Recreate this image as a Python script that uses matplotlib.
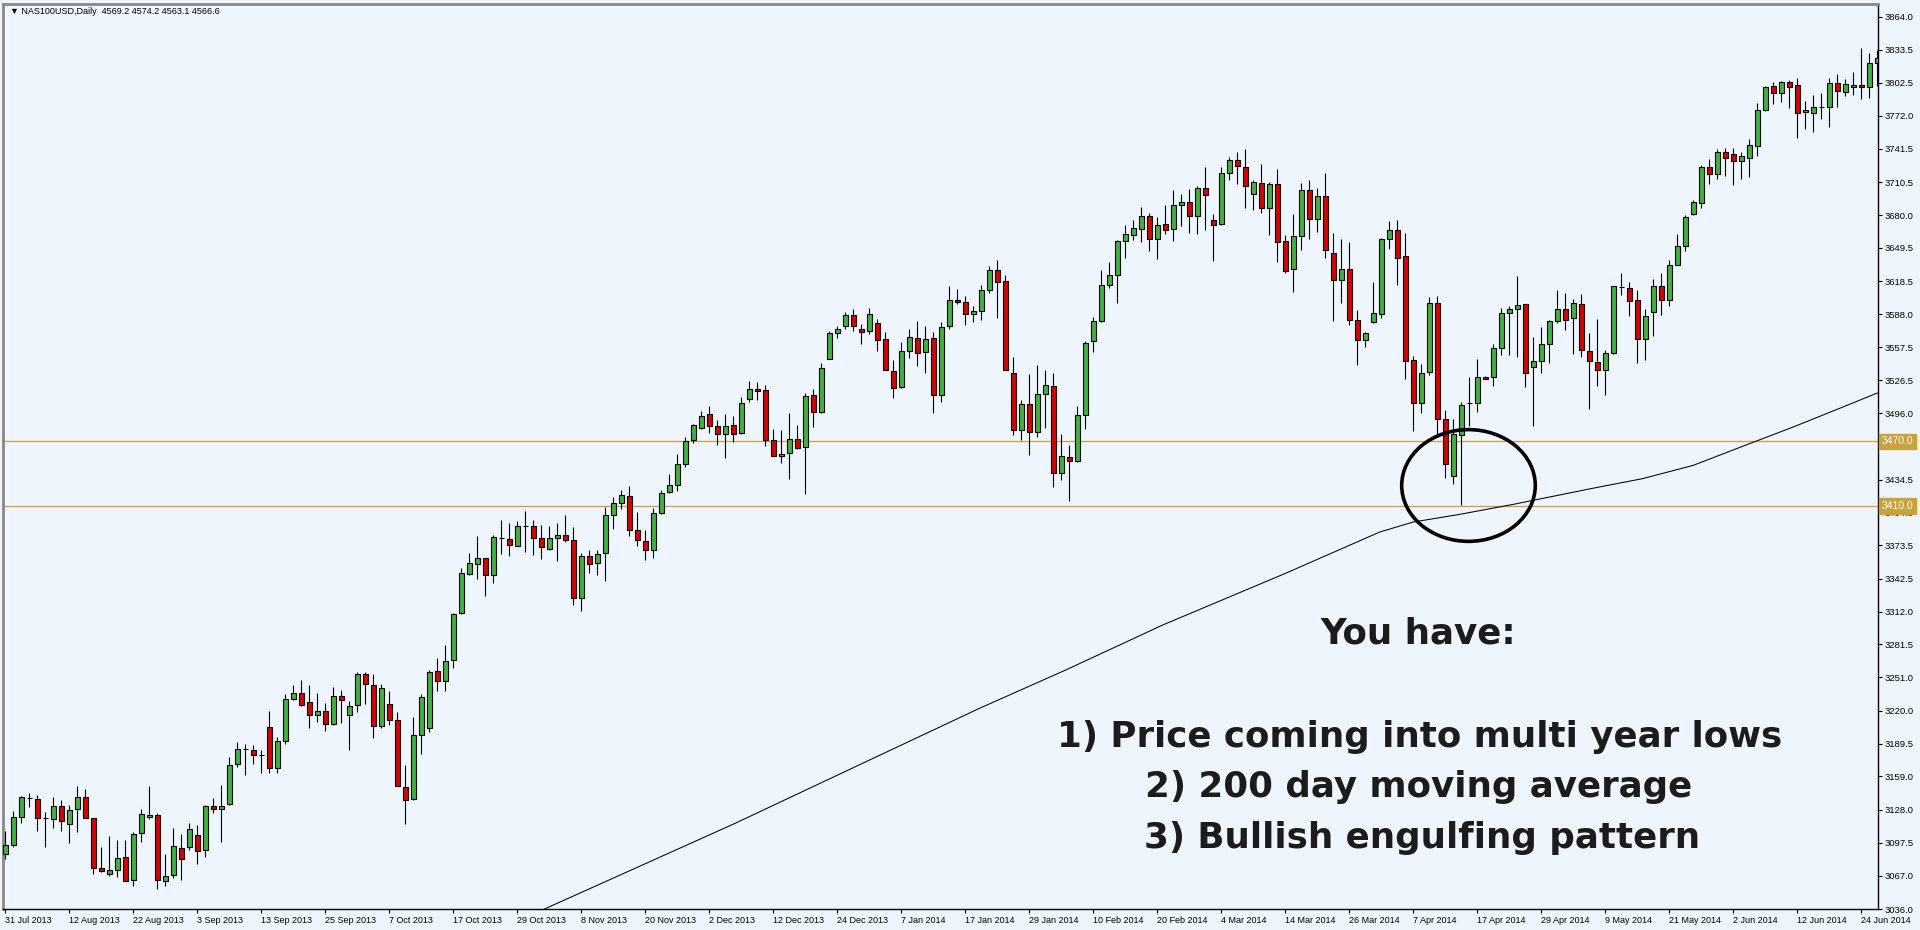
"""NAS100USD daily candles with support levels and 200-day MA (MT4 style)."""
import matplotlib

matplotlib.use("Agg")
import matplotlib.pyplot as plt
from matplotlib.patches import Ellipse

BG = "#EFF5FC"
GREEN = "#3DB53D"
RED = "#DD0000"
GOLD = "#C9A23C"

opens = [
    3087.2, 3095.5, 3121.2, 3138.6, 3138.2, 3120.3, 3119.7, 3131.4, 3115.0, 3129.0,
    3139.8, 3120.6, 3074.2, 3068.6, 3072.3, 3084.7, 3063.0, 3106.7, 3121.2, 3123.4,
    3062.4, 3068.0, 3092.4, 3093.4, 3104.8, 3090.3, 3131.4, 3128.7, 3133.0, 3170.7,
    3184.4, 3183.7, 3179.1, 3204.8, 3167.0, 3191.8, 3231.1, 3236.7, 3228.0, 3216.2,
    3219.6, 3207.3, 3233.9, 3216.2, 3224.9, 3254.3, 3244.1, 3205.7, 3226.5, 3211.0,
    3149.1, 3138.2, 3197.1, 3204.2, 3256.8, 3247.2, 3266.7, 3310.9, 3347.2, 3356.4,
    3361.9, 3346.2, 3380.5, 3379.0, 3372.8, 3391.0, 3391.0, 3380.5, 3369.7, 3380.5,
    3383.3, 3378.0, 3324.5, 3363.2, 3357.0, 3366.3, 3401.9, 3413.0, 3418.9, 3387.9,
    3377.1, 3369.4, 3403.7, 3422.9, 3429.1, 3449.2, 3471.5, 3482.6, 3495.6, 3484.2,
    3477.1, 3484.8, 3477.7, 3509.6, 3518.9, 3517.3, 3471.5, 3456.4, 3459.4, 3472.4,
    3464.7, 3512.7, 3497.2, 3546.7, 3570.9, 3576.7, 3586.9, 3574.6, 3572.1, 3580.1,
    3565.3, 3535.3, 3520.4, 3553.5, 3566.2, 3552.9, 3566.2, 3513.3, 3577.1, 3601.5,
    3599.7, 3588.5, 3590.7, 3610.8, 3628.7, 3618.5, 3533.7, 3480.8, 3504.9, 3478.6,
    3514.2, 3521.0, 3440.6, 3455.4, 3451.7, 3494.1, 3563.1, 3581.7, 3615.4, 3624.7,
    3655.7, 3661.2, 3667.4, 3678.9, 3658.1, 3672.1, 3667.4, 3689.2, 3691.9, 3679.2,
    3705.5, 3675.2, 3672.1, 3719.1, 3730.9, 3724.1, 3699.9, 3710.1, 3686.9, 3709.2,
    3655.7, 3629.7, 3660.6, 3703.6, 3676.7, 3697.8, 3644.8, 3619.5, 3630.3, 3582.3,
    3564.4, 3580.8, 3588.5, 3658.1, 3666.5, 3641.7, 3545.8, 3505.9, 3534.4, 3598.7,
    3491.0, 3437.8, 3476.2, 3505.6, 3505.9, 3529.7, 3529.7, 3557.0, 3589.1, 3593.2,
    3597.8, 3539.0, 3544.3, 3560.7, 3581.4, 3593.2, 3584.8, 3597.8, 3553.9, 3543.6,
    3536.5, 3552.3, 3613.3, 3612.7, 3600.9, 3565.3, 3590.1, 3613.9, 3601.5, 3634.0,
    3651.0, 3680.8, 3691.3, 3724.7, 3718.5, 3738.0, 3736.2, 3730.0, 3733.0, 3744.2,
    3777.3, 3799.9, 3792.8, 3803.3, 3800.5, 3775.2, 3774.2, 3780.4, 3780.4, 3802.1,
    3794.3, 3798.4, 3800.5, 3799.0, 3820.7,
]
highs = [
    3108.8, 3127.4, 3140.4, 3143.5, 3142.0, 3125.9, 3139.8, 3137.3, 3132.1, 3150.6,
    3146.9, 3120.6, 3093.4, 3103.3, 3099.6, 3100.2, 3107.3, 3129.0, 3149.7, 3124.9,
    3087.2, 3111.0, 3105.7, 3115.7, 3114.4, 3132.1, 3138.9, 3151.2, 3176.9, 3190.9,
    3189.3, 3188.4, 3183.1, 3219.6, 3195.5, 3235.7, 3244.1, 3248.1, 3243.5, 3236.7,
    3227.1, 3241.9, 3238.8, 3228.6, 3255.9, 3255.9, 3253.7, 3244.4, 3238.2, 3218.7,
    3169.2, 3214.1, 3235.7, 3258.0, 3269.2, 3280.6, 3310.9, 3352.7, 3366.6, 3381.8,
    3361.9, 3382.7, 3396.6, 3394.1, 3396.0, 3405.0, 3397.2, 3392.0, 3391.0, 3394.1,
    3401.2, 3390.4, 3366.3, 3369.4, 3369.4, 3409.0, 3418.3, 3424.5, 3428.5, 3404.3,
    3387.3, 3408.4, 3425.1, 3439.3, 3457.9, 3474.0, 3486.4, 3498.1, 3502.8, 3489.5,
    3495.0, 3493.2, 3511.1, 3525.7, 3524.7, 3522.0, 3481.7, 3480.2, 3496.6, 3484.8,
    3514.8, 3518.9, 3543.0, 3572.1, 3576.7, 3590.0, 3593.1, 3578.6, 3593.8, 3583.2,
    3571.5, 3545.2, 3562.2, 3573.9, 3581.7, 3576.7, 3571.5, 3580.7, 3614.2, 3611.7,
    3604.6, 3595.6, 3615.4, 3632.5, 3638.0, 3624.1, 3548.3, 3508.0, 3532.8, 3540.5,
    3535.9, 3533.4, 3476.5, 3466.3, 3502.8, 3562.8, 3585.4, 3629.4, 3636.5, 3657.2,
    3671.1, 3675.2, 3687.6, 3682.0, 3678.3, 3689.2, 3703.0, 3699.9, 3704.0, 3707.0,
    3724.7, 3680.7, 3724.7, 3733.4, 3738.6, 3741.7, 3712.9, 3727.5, 3710.8, 3723.1,
    3661.9, 3680.7, 3709.8, 3712.3, 3704.6, 3719.4, 3663.4, 3658.1, 3655.1, 3592.2,
    3571.5, 3617.9, 3659.1, 3674.2, 3675.2, 3663.7, 3548.9, 3541.5, 3604.0, 3604.6,
    3498.8, 3490.4, 3506.5, 3529.7, 3546.7, 3530.3, 3560.7, 3593.8, 3595.3, 3623.2,
    3597.8, 3566.9, 3576.1, 3583.0, 3610.2, 3608.0, 3602.5, 3607.1, 3570.6, 3583.9,
    3554.5, 3614.2, 3626.6, 3617.9, 3610.2, 3593.2, 3621.0, 3626.3, 3638.0, 3662.2,
    3679.8, 3693.8, 3726.3, 3732.4, 3741.1, 3742.6, 3742.6, 3738.0, 3750.4, 3784.1,
    3799.6, 3803.6, 3804.8, 3805.4, 3807.4, 3786.0, 3791.2, 3792.8, 3806.7, 3810.8,
    3806.1, 3812.8, 3834.6, 3830.6, 3833.0,
]
lows = [
    3082.5, 3093.4, 3115.7, 3130.5, 3108.8, 3093.4, 3111.3, 3108.8, 3097.1, 3107.3,
    3120.6, 3068.6, 3070.5, 3066.4, 3065.5, 3062.4, 3057.5, 3098.0, 3119.7, 3054.7,
    3057.8, 3064.9, 3063.0, 3090.3, 3077.3, 3084.7, 3124.9, 3098.0, 3132.4, 3167.6,
    3159.9, 3170.7, 3162.1, 3162.4, 3162.1, 3189.3, 3230.2, 3224.0, 3203.9, 3209.4,
    3200.8, 3206.3, 3208.5, 3183.1, 3218.7, 3226.5, 3194.6, 3204.2, 3206.3, 3149.7,
    3115.0, 3137.3, 3180.0, 3200.1, 3237.9, 3238.2, 3259.9, 3310.0, 3345.6, 3341.9,
    3326.3, 3338.7, 3365.0, 3363.5, 3372.5, 3367.2, 3364.1, 3360.4, 3368.8, 3358.8,
    3376.5, 3317.7, 3312.4, 3347.7, 3345.5, 3340.3, 3388.9, 3407.4, 3381.7, 3372.8,
    3360.1, 3361.6, 3402.2, 3422.3, 3423.8, 3446.1, 3468.4, 3481.7, 3477.7, 3466.2,
    3454.8, 3469.3, 3477.1, 3506.5, 3508.6, 3465.6, 3456.4, 3450.1, 3434.7, 3462.5,
    3420.7, 3483.3, 3496.6, 3546.1, 3565.9, 3573.9, 3572.1, 3560.6, 3569.9, 3553.8,
    3536.5, 3510.2, 3519.8, 3547.6, 3539.9, 3533.4, 3496.3, 3506.5, 3574.6, 3597.2,
    3577.7, 3580.8, 3582.3, 3607.7, 3584.8, 3536.5, 3475.5, 3470.9, 3457.0, 3474.0,
    3482.7, 3427.6, 3434.4, 3414.6, 3450.8, 3481.7, 3552.9, 3580.8, 3612.7, 3598.4,
    3640.2, 3657.2, 3655.1, 3646.7, 3639.6, 3662.8, 3656.0, 3669.6, 3663.4, 3662.2,
    3666.5, 3637.4, 3670.5, 3712.9, 3709.2, 3686.6, 3684.5, 3682.0, 3661.2, 3636.5,
    3626.3, 3608.6, 3647.3, 3658.1, 3664.3, 3640.5, 3581.7, 3598.4, 3578.3, 3540.5,
    3557.6, 3579.8, 3584.8, 3648.9, 3614.8, 3528.2, 3479.3, 3496.3, 3531.3, 3476.5,
    3436.3, 3430.1, 3410.6, 3484.2, 3497.2, 3527.6, 3521.1, 3549.8, 3549.8, 3548.3,
    3520.4, 3484.2, 3533.7, 3542.7, 3579.9, 3573.1, 3551.4, 3548.3, 3499.7, 3521.1,
    3512.7, 3551.4, 3605.5, 3586.4, 3542.7, 3545.2, 3567.8, 3587.0, 3595.3, 3633.4,
    3646.7, 3679.8, 3686.9, 3708.6, 3713.8, 3716.3, 3707.7, 3713.8, 3715.4, 3734.6,
    3776.4, 3782.9, 3785.1, 3779.5, 3751.6, 3759.7, 3757.2, 3769.0, 3761.3, 3780.4,
    3790.6, 3791.2, 3787.5, 3789.0, 3800.0,
]
closes = [
    3095.5, 3121.2, 3139.8, 3139.0, 3120.6, 3120.6, 3131.4, 3117.5, 3128.0, 3139.8,
    3120.6, 3074.2, 3071.1, 3072.3, 3083.5, 3062.4, 3105.7, 3124.3, 3123.4, 3063.0,
    3066.4, 3094.0, 3082.5, 3110.4, 3089.7, 3131.4, 3128.7, 3131.4, 3169.8, 3184.7,
    3184.6, 3179.1, 3179.2, 3167.0, 3191.8, 3231.1, 3236.4, 3225.5, 3215.6, 3219.3,
    3207.3, 3233.9, 3230.2, 3224.0, 3253.7, 3244.4, 3205.4, 3241.3, 3211.6, 3149.7,
    3137.3, 3197.1, 3232.6, 3255.9, 3247.2, 3266.1, 3310.0, 3348.1, 3357.1, 3361.7,
    3346.2, 3381.1, 3380.7, 3373.7, 3391.0, 3391.2, 3380.5, 3371.8, 3380.5, 3383.3,
    3378.0, 3324.5, 3363.2, 3356.4, 3365.7, 3401.9, 3413.0, 3419.8, 3387.9, 3378.0,
    3369.4, 3403.7, 3422.3, 3429.7, 3449.2, 3470.3, 3484.8, 3493.2, 3484.2, 3477.1,
    3483.9, 3477.1, 3505.9, 3518.9, 3516.7, 3470.9, 3456.4, 3458.5, 3472.4, 3464.1,
    3511.7, 3497.2, 3538.4, 3570.9, 3574.6, 3587.6, 3576.7, 3571.5, 3588.5, 3564.4,
    3536.5, 3519.5, 3553.5, 3566.8, 3552.0, 3565.3, 3512.7, 3576.1, 3601.5, 3599.3,
    3588.5, 3590.7, 3610.8, 3629.4, 3617.9, 3536.5, 3480.8, 3504.3, 3478.6, 3514.2,
    3522.6, 3440.6, 3456.0, 3451.7, 3494.1, 3561.3, 3581.7, 3615.4, 3624.7, 3655.7,
    3662.8, 3668.4, 3678.9, 3658.1, 3671.1, 3666.5, 3689.2, 3691.9, 3679.2, 3705.5,
    3699.0, 3671.1, 3719.1, 3730.9, 3725.3, 3706.7, 3710.8, 3686.9, 3709.2, 3655.1,
    3628.1, 3660.6, 3703.0, 3676.7, 3697.8, 3647.3, 3620.1, 3630.3, 3582.3, 3564.4,
    3570.6, 3589.4, 3658.1, 3666.5, 3640.5, 3544.3, 3505.9, 3533.7, 3598.7, 3491.0,
    3449.2, 3477.1, 3504.0, 3505.8, 3529.7, 3528.2, 3557.0, 3589.1, 3593.2, 3596.9,
    3533.7, 3544.3, 3560.7, 3581.4, 3593.2, 3583.0, 3598.7, 3555.1, 3544.3, 3536.5,
    3552.3, 3613.9, 3613.5, 3600.3, 3565.3, 3586.0, 3613.9, 3601.5, 3634.0, 3651.0,
    3677.7, 3692.2, 3724.7, 3718.5, 3738.0, 3733.0, 3730.0, 3734.6, 3745.4, 3777.3,
    3798.4, 3792.8, 3803.3, 3799.0, 3774.2, 3777.3, 3780.4, 3780.6, 3802.1, 3795.3,
    3801.4, 3800.5, 3798.4, 3821.3, 3825.3,
]

# 200-day moving average at a set of bar positions
ma_bars = [67.4, 91.2, 106.5, 121.8, 132.5, 144.7, 160.0, 171.8, 176.0, 181.8,
           188.5, 198.7, 204.7, 211.0, 217.5, 223.5, 229.7, 234.0]
ma_vals = [3036.0, 3115.4, 3168.9, 3222.3, 3257.6, 3299.6, 3347.4, 3385.8, 3395.1, 3402.2,
           3411.5, 3426.8, 3435.4, 3447.7, 3466.3, 3483.3, 3501.8, 3514.8]

levels = [3470.0, 3410.0]

date_labels = [
    "31 Jul 2013", "12 Aug 2013", "22 Aug 2013", "3 Sep 2013", "13 Sep 2013",
    "25 Sep 2013", "7 Oct 2013", "17 Oct 2013", "29 Oct 2013", "8 Nov 2013",
    "20 Nov 2013", "2 Dec 2013", "12 Dec 2013", "24 Dec 2013", "7 Jan 2014",
    "17 Jan 2014", "29 Jan 2014", "10 Feb 2014", "20 Feb 2014", "4 Mar 2014",
    "14 Mar 2014", "26 Mar 2014", "7 Apr 2014", "17 Apr 2014", "29 Apr 2014",
    "9 May 2014", "21 May 2014", "2 Jun 2014", "12 Jun 2014", "24 Jun 2014",
]
price_ticks = [
    3864.0, 3833.5, 3802.5, 3772.0, 3741.5, 3710.5, 3680.0, 3649.5, 3618.5, 3588.0,
    3557.5, 3526.5, 3496.0, 3465.5, 3434.5, 3404.0, 3373.5, 3342.5, 3312.0, 3281.5,
    3251.0, 3220.0, 3189.5, 3159.0, 3128.0, 3097.5, 3067.0, 3036.0,
]

header = "\u25bc NAS100USD,Daily  4569.2 4574.2 4563.1 4566.6"
notes = [
    "You have:",
    "1) Price coming into multi year lows",
    "2) 200 day moving average",
    "3) Bullish engulfing pattern",
]

W, H = 1920, 930
fig = plt.figure(figsize=(W / 100, H / 100), dpi=100, facecolor=BG)
ax = fig.add_axes([3 / W, 1 - 909 / H, 1875 / W, 905 / H], facecolor=BG)

xs = list(range(len(opens)))
bottoms = [min(o, c) for o, c in zip(opens, closes)]
heights = [abs(c - o) for o, c in zip(opens, closes)]
colors = [GREEN if c >= o else RED for o, c in zip(opens, closes)]

ax.vlines(xs, lows, highs, color="black", linewidth=0.8, zorder=3)
ax.bar(xs, heights, bottom=bottoms, width=0.6, color=colors,
       edgecolor="black", linewidth=0.8, zorder=4)

for lv in levels:
    ax.axhline(lv, color=GOLD, linewidth=0.9, zorder=2)
    ax.annotate(f"{lv:.1f}", xy=(1, lv), xycoords=("axes fraction", "data"),
                xytext=(2.5, 0), textcoords="offset points", ha="left", va="center",
                fontsize=7.5, family="Liberation Sans", color="white", zorder=10,
                annotation_clip=False,
                bbox=dict(boxstyle="square,pad=0.25", fc=GOLD, ec=GOLD))

ax.plot(ma_bars, ma_vals, color="black", linewidth=0.75, zorder=2)

ax.add_patch(Ellipse((182.9, 3429.0), width=16.7, height=103.7, fill=False,
                     edgecolor="black", linewidth=2.6, zorder=6))

ax.set_xlim(-0.29, 234.09)
ax.set_ylim(3036.0, 3875.8)

ax.set_xticks(range(0, 8 * len(date_labels), 8))
ax.set_xticklabels(date_labels, ha="left", fontsize=6.5, family="Liberation Sans")
ax.yaxis.tick_right()
ax.set_yticks(price_ticks)
ax.set_yticklabels([f"{v:.1f}" for v in price_ticks], fontsize=6.8, family="Liberation Sans")
ax.tick_params(axis="both", direction="out", length=3, width=0.8, pad=2, colors="black")

for side in ("left", "top"):
    ax.spines[side].set_color("#888888")
    ax.spines[side].set_linewidth(2)
for side in ("right", "bottom"):
    ax.spines[side].set_color("black")
    ax.spines[side].set_linewidth(1)

fig.text(10 / W, 1 - 12 / H, header, fontsize=6.5, family="Liberation Sans",
         ha="left", va="center", color="black")

note_pos = [(1418, 633), (1420, 737), (1419, 787), (1422, 838)]
for txt, (px, py) in zip(notes, note_pos):
    fig.text(px / W, 1 - py / H, txt, fontsize=25.7, fontweight="bold",
             family="DejaVu Sans", ha="center", va="center", color="#1c1c1c")

fig.savefig("out.png", dpi=100, facecolor=BG)
